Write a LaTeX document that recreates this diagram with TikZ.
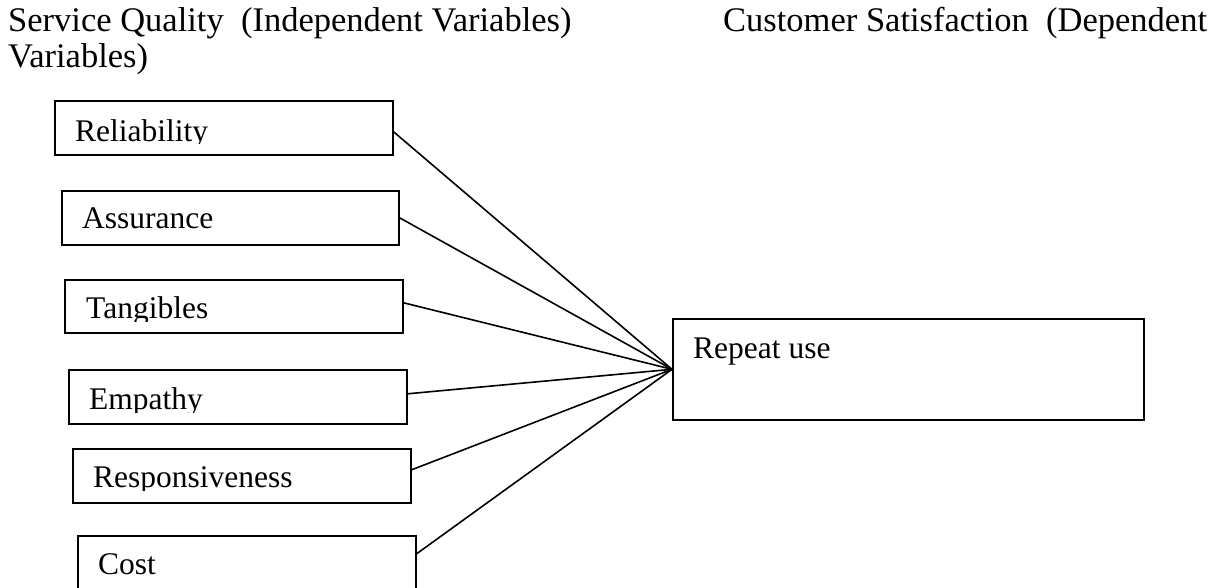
\documentclass[tikz,border=0pt]{standalone}
\usepackage{fontspec}
\setmainfont{Liberation Serif}
\begin{document}
\begin{tikzpicture}[x=1pt,y=-1pt,
  box/.style={draw, line width=1.6pt, inner sep=0pt, anchor=north west},
  lbl/.style={anchor=base west, inner sep=0pt, font=\fontsize{31.5}{38}\selectfont},
  ttl/.style={anchor=base west, inner sep=0pt, font=\fontsize{34.5}{40}\selectfont},
  link/.style={line width=1.6pt}]
\useasboundingbox (0,0) rectangle (1220,588);
% titles
\node[ttl] (t1) at (8,32) {Service Quality\ \ (Independent Variables)};
\node[ttl] (t2) at (723,32) {Customer Satisfaction\ \ (Dependent};
\node[ttl] (t3) at (8,68) {Variables)};
% boxes
\node[box, minimum width=338pt, minimum height=54pt] (rel) at (54,100) {};
\node[box, minimum width=337pt, minimum height=54pt] (ass) at (61,190) {};
\node[box, minimum width=338pt, minimum height=53pt] (tan) at (64,279) {};
\node[box, minimum width=338pt, minimum height=54pt] (emp) at (68,369) {};
\node[box, minimum width=338pt, minimum height=54pt] (res) at (72,448) {};
\node[box, minimum width=338pt, minimum height=54pt] (cost) at (77,535) {};
\node[box, minimum width=471pt, minimum height=101pt] (rep) at (672,318) {};
% labels (clipped like the overflowing text boxes)
\begin{scope}\clip (54,100) rectangle (392,144);
\node[lbl] (relt) at (75,142) {Reliability};\end{scope}
\node[lbl] (asst) at (82,229) {Assurance};
\begin{scope}\clip (64,279) rectangle (402,321);
\node[lbl] (tant) at (86,318) {Tangibles};\end{scope}
\begin{scope}\clip (68,369) rectangle (406,412);
\node[lbl] (empt) at (89,409) {Empathy};\end{scope}
\begin{scope}\clip (72,448) rectangle (410,490);
\node[lbl] (rest) at (93,487) {Responsiveness};\end{scope}
\node[lbl] (costt) at (98,574) {Cost};
\node[lbl] (rept) at (693,358) {Repeat use};
% connectors
\draw[link] ([yshift=-4pt]rel.east) -- (rep.west);
\draw[link] (ass.east) -- (rep.west);
\draw[link] ([yshift=3.5pt]tan.east) -- (rep.west);
\draw[link] ([yshift=3pt]emp.east) -- (rep.west);
\draw[link] ([yshift=6pt]res.east) -- (rep.west);
\draw[link] ([yshift=9pt]cost.east) -- (rep.west);
\end{tikzpicture}
\end{document}
